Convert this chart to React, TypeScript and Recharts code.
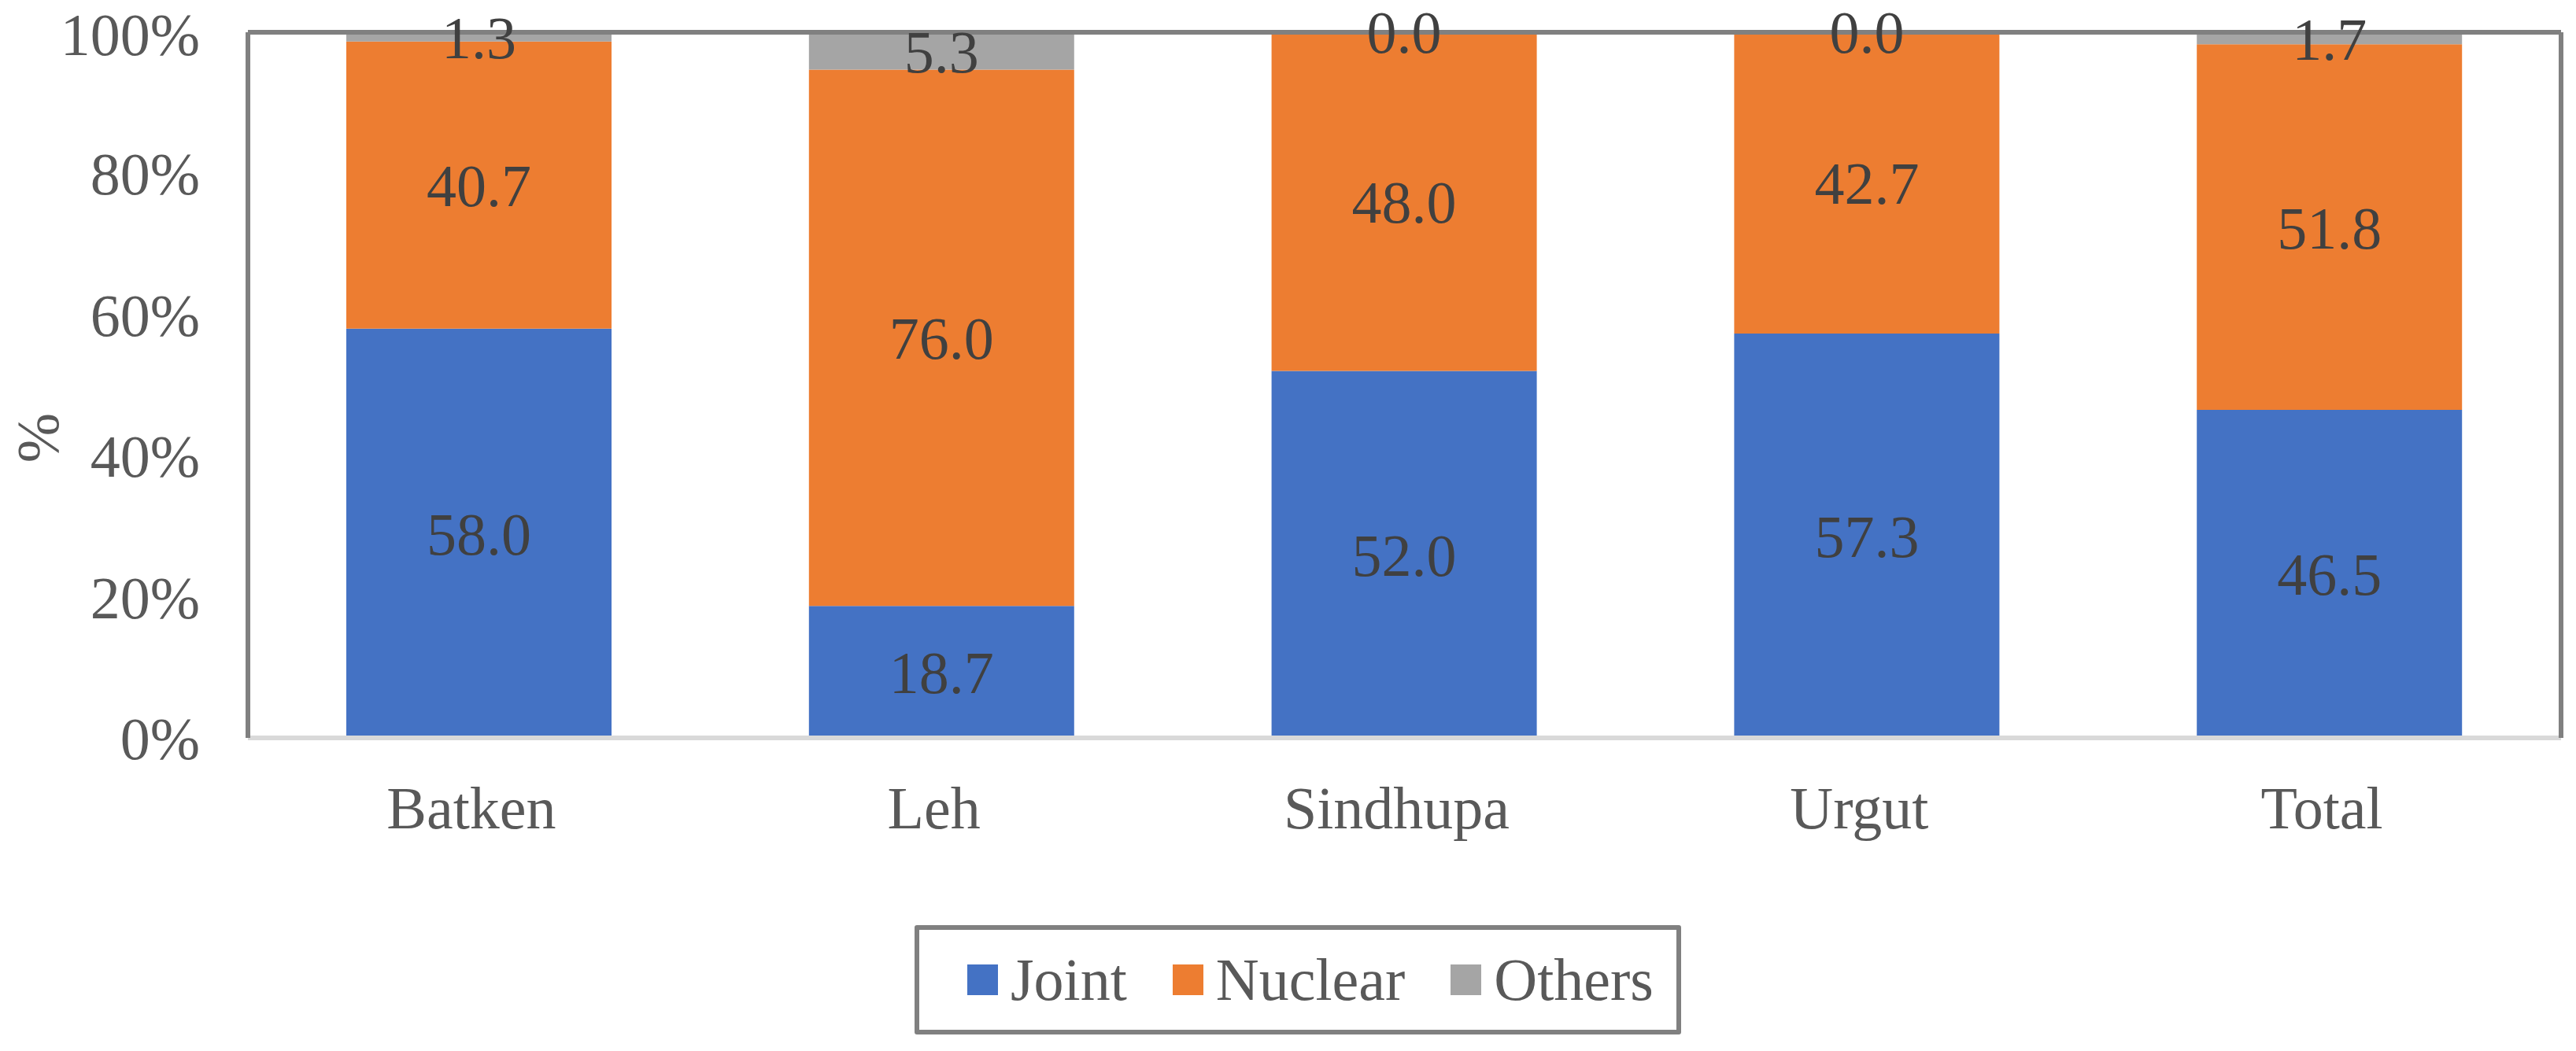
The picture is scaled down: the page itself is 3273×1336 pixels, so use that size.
import React from 'react';
import { BarChart, Bar, XAxis, YAxis, LabelList, Legend, Label } from 'recharts';

const categories = ['Batken', 'Leh', 'Sindhupa', 'Urgut', 'Total'];
const joint = [58.0, 18.7, 52.0, 57.3, 46.5];
const nuclear = [40.7, 76.0, 48.0, 42.7, 51.8];
const others = [1.3, 5.3, 0.0, 0.0, 1.7];
const yTicks = [0, 20, 40, 60, 80, 100];
const seriesKeys = ['Joint', 'Nuclear', 'Others'];
const seriesColors = ['#4472C4', '#ED7D31', '#A5A5A5'];

const data = categories.map((c, i) => ({
  category: c,
  Joint: joint[i],
  Nuclear: nuclear[i],
  Others: others[i],
}));

const FONT = "'Liberation Serif', 'Times New Roman', serif";
const W = 3273;
const H = 1336;

const renderYLabel = (props: any) => {
  const vb = props.viewBox || { x: 0, y: 0, width: 0, height: 0 };
  const x = vb.x + 74;
  const y = vb.y + vb.height / 2 + 67;
  return (
    <text
      x={x}
      y={y}
      transform={`rotate(-90 ${x} ${y})`}
      textAnchor="middle"
      fill="#595959"
      fontSize={76}
      fontFamily={FONT}
    >
      %
    </text>
  );
};

const renderLegend = () => (
  <div
    style={{
      boxSizing: 'border-box',
      width: 974,
      height: 139,
      border: '6px solid #808080',
      borderRadius: 3,
      background: '#fff',
      display: 'flex',
      alignItems: 'center',
      paddingLeft: 61,
      fontFamily: FONT,
      fontSize: 76,
      color: '#595959',
      lineHeight: 'normal',
      whiteSpace: 'nowrap',
    }}
  >
    {seriesKeys.map((k, i) => (
      <div
        key={k}
        style={{ display: 'flex', alignItems: 'center', marginRight: i < seriesKeys.length - 1 ? 58 : 0 }}
      >
        <span style={{ display: 'inline-block', width: 39, height: 39, background: seriesColors[i], marginRight: 16 }} />
        <span>{k}</span>
      </div>
    ))}
  </div>
);

export default function App() {
  return (
    <div style={{ position: 'absolute', left: 0, top: 0, width: W, height: H, background: '#fff', fontFamily: FONT }}>
      <BarChart
        width={W}
        height={H}
        data={data}
        margin={{ top: 40, right: 18, bottom: 0, left: 0 }}
      >
        <XAxis
          dataKey="category"
          xAxisId="bottom"
          height={398}
          tickSize={0}
          tickMargin={61}
          axisLine={{ stroke: '#D9D9D9', strokeWidth: 6 }}
          tickLine={false}
          tick={{ fill: '#595959', fontSize: 76, fontFamily: FONT, dx: -10 }}
        />
        <XAxis
          dataKey="category"
          xAxisId="top"
          orientation="top"
          height={1}
          tick={false}
          tickLine={false}
          axisLine={{ stroke: '#808080', strokeWidth: 6 }}
        />
        <YAxis
          yAxisId="left"
          width={315}
          domain={[0, 100]}
          ticks={yTicks}
          tickFormatter={(v: number) => `${v}%`}
          tickSize={0}
          tickMargin={61}
          tickLine={false}
          axisLine={{ stroke: '#808080', strokeWidth: 6 }}
          tick={{ fill: '#595959', fontSize: 76, fontFamily: FONT }}
          allowDataOverflow
        >
          <Label content={renderYLabel} />
        </YAxis>
        <YAxis
          yAxisId="right"
          orientation="right"
          width={1}
          domain={[0, 100]}
          tick={false}
          tickLine={false}
          axisLine={{ stroke: '#808080', strokeWidth: 6 }}
        />
        {seriesKeys.map((k, i) => (
          <Bar
            key={k}
            dataKey={k}
            stackId="a"
            xAxisId="bottom"
            yAxisId="left"
            fill={seriesColors[i]}
            barSize={337}
            minPointSize={k === 'Others' ? 1 : 0}
            isAnimationActive={false}
          >
            <LabelList
              dataKey={k}
              position="center"
              formatter={(v: any) => Number(v).toFixed(1)}
              fill="#404040"
              fontSize={76}
              fontFamily={FONT}
            />
          </Bar>
        ))}
        <Legend
          layout="horizontal"
          verticalAlign="middle"
          align="center"
          content={renderLegend}
          wrapperStyle={{ left: 1162, top: 1176, width: 974, height: 139 }}
        />
      </BarChart>
    </div>
  );
}
